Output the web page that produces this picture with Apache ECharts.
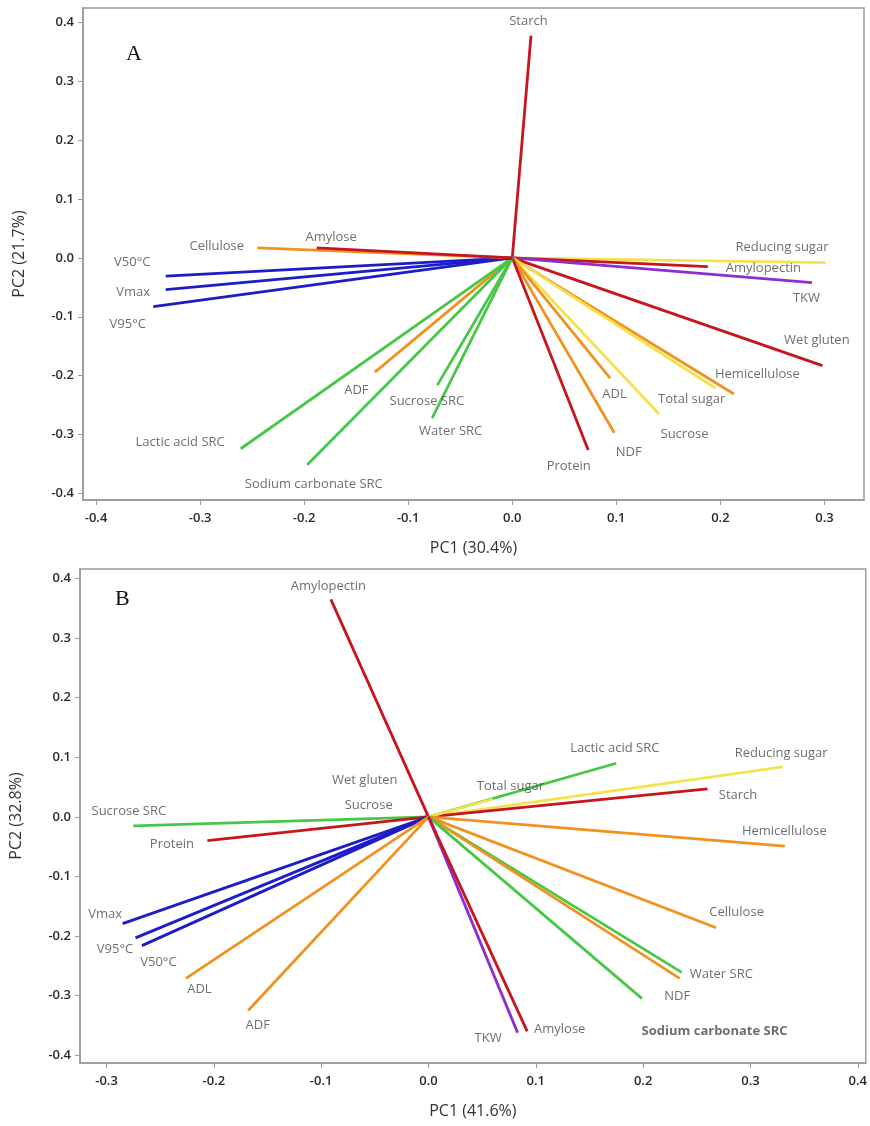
<!DOCTYPE html>
<html style="height: 100%;">
  <head>
    <meta charset="utf-8" />
    <script src="https://cdn.jsdelivr.net/npm/echarts@6/dist/echarts.min.js"></script>
  </head>
  <body style="height: 100%; margin: 0; background: #fff;">
    <div id="container" style="width: 870px; height: 1126px;"></div>

    <script type="text/javascript">
      // panel A loadings
      var namesA = ["Starch", "Reducing sugar", "Amylopectin", "TKW", "Wet gluten", "Hemicellulose",
        "Total sugar", "Sucrose", "ADL", "NDF", "Protein", "Water SRC", "Sucrose SRC", "ADF",
        "Lactic acid SRC", "Sodium carbonate SRC", "V50°C", "Vmax", "V95°C", "Cellulose", "Amylose"];
      var pc1A = [0.018, 0.301, 0.188, 0.288, 0.298, 0.213, 0.195, 0.141, 0.094, 0.098, 0.073,
        -0.077, -0.072, -0.132, -0.261, -0.197, -0.333, -0.333, -0.345, -0.245, -0.188];
      var pc2A = [0.377, -0.008, -0.015, -0.042, -0.183, -0.231, -0.221, -0.265, -0.204, -0.297, -0.326,
        -0.272, -0.216, -0.194, -0.324, -0.351, -0.031, -0.054, -0.083, 0.017, 0.017];

      // panel B loadings
      var namesB = ["Amylopectin", "Lactic acid SRC", "Reducing sugar", "Starch", "Total sugar",
        "Wet gluten", "Sucrose", "Sucrose SRC", "Protein", "Vmax", "V95°C", "V50°C", "ADL", "ADF",
        "Hemicellulose", "Cellulose", "Water SRC", "NDF", "Sodium carbonate SRC", "TKW", "Amylose"];
      var pc1B = [-0.091, 0.175, 0.330, 0.260, 0.060, -0.003, -0.004, -0.275, -0.206, -0.285,
        -0.273, -0.267, -0.226, -0.168, 0.332, 0.268, 0.236, 0.234, 0.199, 0.083, 0.092];
      var pc2B = [0.365, 0.090, 0.084, 0.047, 0.030, 0.003, -0.002, -0.015, -0.040, -0.179,
        -0.203, -0.216, -0.271, -0.325, -0.049, -0.186, -0.261, -0.271, -0.305, -0.362, -0.360];

      var ticksA_x = [-0.4, -0.3, -0.2, -0.1, 0, 0.1, 0.2, 0.3];
      var ticksB_x = [-0.3, -0.2, -0.1, 0, 0.1, 0.2, 0.3, 0.4];
      var ticksY = [-0.4, -0.3, -0.2, -0.1, 0, 0.1, 0.2, 0.3, 0.4];

      // label placement (pixels from vector tip)
      var offA = [[-2, -14], [-43, -15], [56, 2], [-5, 16], [-5, -25], [24, -19], [-23, 12], [26, 21],
        [5, 17], [15, 20], [-19, 17], [19, 14], [-10, 17], [-18, 19], [-60, -6], [7, 20], [-33, -13],
        [-32, 3], [-25, 18], [-40, -1], [15, -10]];
      var offB = [[-2, -13], [-1, -14], [-1, -13], [31, 7], [18, -12], [-60, -34], [-55, -12],
        [-4, -14], [-35, 4], [-17, -9], [-20, 12], [17, 17], [14, 11], [10, 15], [0, -14], [21, -15],
        [40, 2], [-2, 18], [73, 33], [-29, 6], [33, -2]];

      var palette = {
        blue: "#1c1cc8", red: "#c8141e", orange: "#f0921e",
        yellow: "#f4e24c", green: "#46c846", purple: "#8a2fd4"
      };
      var colorOf = {
        "Starch": "red", "Amylopectin": "red", "Wet gluten": "red", "Protein": "red", "Amylose": "red",
        "Reducing sugar": "yellow", "Total sugar": "yellow", "Sucrose": "yellow",
        "Hemicellulose": "orange", "ADL": "orange", "NDF": "orange", "ADF": "orange", "Cellulose": "orange",
        "Water SRC": "green", "Sucrose SRC": "green", "Lactic acid SRC": "green", "Sodium carbonate SRC": "green",
        "V50°C": "blue", "Vmax": "blue", "V95°C": "blue", "TKW": "purple"
      };

      var font = "'Open Sans', 'Noto Sans', sans-serif";

      function makeAxes(idx, xmin, xmax, ymin, ymax, xt, xname, yname) {
        var common = {
          gridIndex: idx,
          type: "value",
          splitLine: { show: false },
          axisLine: { show: true, onZero: false, lineStyle: { color: "#999", width: 1.5 } },
          axisTick: { show: true, inside: false, length: 5, lineStyle: { color: "#999" } },
          axisLabel: {
            color: "#2a2a2a", fontSize: 13, fontWeight: 600, fontFamily: font,
            formatter: function (v) { return v.toFixed(1); }
          },
          nameLocation: "middle",
          nameTextStyle: { color: "#333", fontSize: 16, fontFamily: font }
        };
        var x = echarts.util.merge({
          min: xmin, max: xmax, name: xname, nameGap: 40,
          axisTick: { customValues: xt },
          axisLabel: { customValues: xt, margin: 12 }
        }, common);
        var y = echarts.util.merge({
          min: ymin, max: ymax, name: yname, nameGap: 56,
          axisTick: { customValues: ticksY },
          axisLabel: { customValues: ticksY, margin: 9 }
        }, common);
        return [x, y];
      }

      function makeSeries(idx, names, xs, ys, offs) {
        var out = [];
        names.forEach(function (n, i) {
          out.push({
            type: "line",
            xAxisIndex: idx, yAxisIndex: idx,
            data: [[0, 0], [xs[i], ys[i]]],
            symbol: "none",
            lineStyle: { color: palette[colorOf[n]], width: 2.8 },
            silent: true
          });
        });
        out.push({
          type: "scatter",
          xAxisIndex: idx, yAxisIndex: idx,
          symbolSize: 1,
          itemStyle: { color: "rgba(0,0,0,0)" },
          data: names.map(function (n, i) {
            return {
              name: n, value: [xs[i], ys[i]],
              label: {
                offset: offs[i],
                fontWeight: (idx === 1 && n === "Sodium carbonate SRC") ? "bold" : "normal"
              }
            };
          }),
          label: {
            show: true, position: [0, 0], align: "center", verticalAlign: "middle",
            formatter: "{b}", color: "#4a4a4a", fontSize: 13, fontFamily: font
          },
          z: 5
        });
        return out;
      }

      var axA = makeAxes(0, -0.4125, 0.338, -0.411, 0.424, ticksA_x, "PC1 (30.4%)", "PC2 (21.7%)");
      var axB = makeAxes(1, -0.3247, 0.4074, -0.413, 0.416, ticksB_x, "PC1 (41.6%)", "PC2 (32.8%)");

      var myChart = echarts.init(document.getElementById("container"));
      var option = {
        animation: false,
        backgroundColor: "#fff",
        title: [
          { text: "A", left: 121, top: 38, textStyle: { fontFamily: "'Liberation Serif', serif", fontWeight: "normal", fontSize: 22, color: "#111" } },
          { text: "B", left: 110, top: 583, textStyle: { fontFamily: "'Liberation Serif', serif", fontWeight: "normal", fontSize: 22, color: "#111" } }
        ],
        grid: [
          { left: 83, top: 8, right: 6, bottom: 626, show: true, borderColor: "#999", borderWidth: 1.5 },
          { left: 79, top: 569, right: 4, bottom: 63, show: true, borderColor: "#999", borderWidth: 1.5 }
        ],
        xAxis: [axA[0], axB[0]],
        yAxis: [axA[1], axB[1]],
        series: makeSeries(0, namesA, pc1A, pc2A, offA).concat(makeSeries(1, namesB, pc1B, pc2B, offB))
      };
      myChart.setOption(option);
    </script>
  </body>
</html>
